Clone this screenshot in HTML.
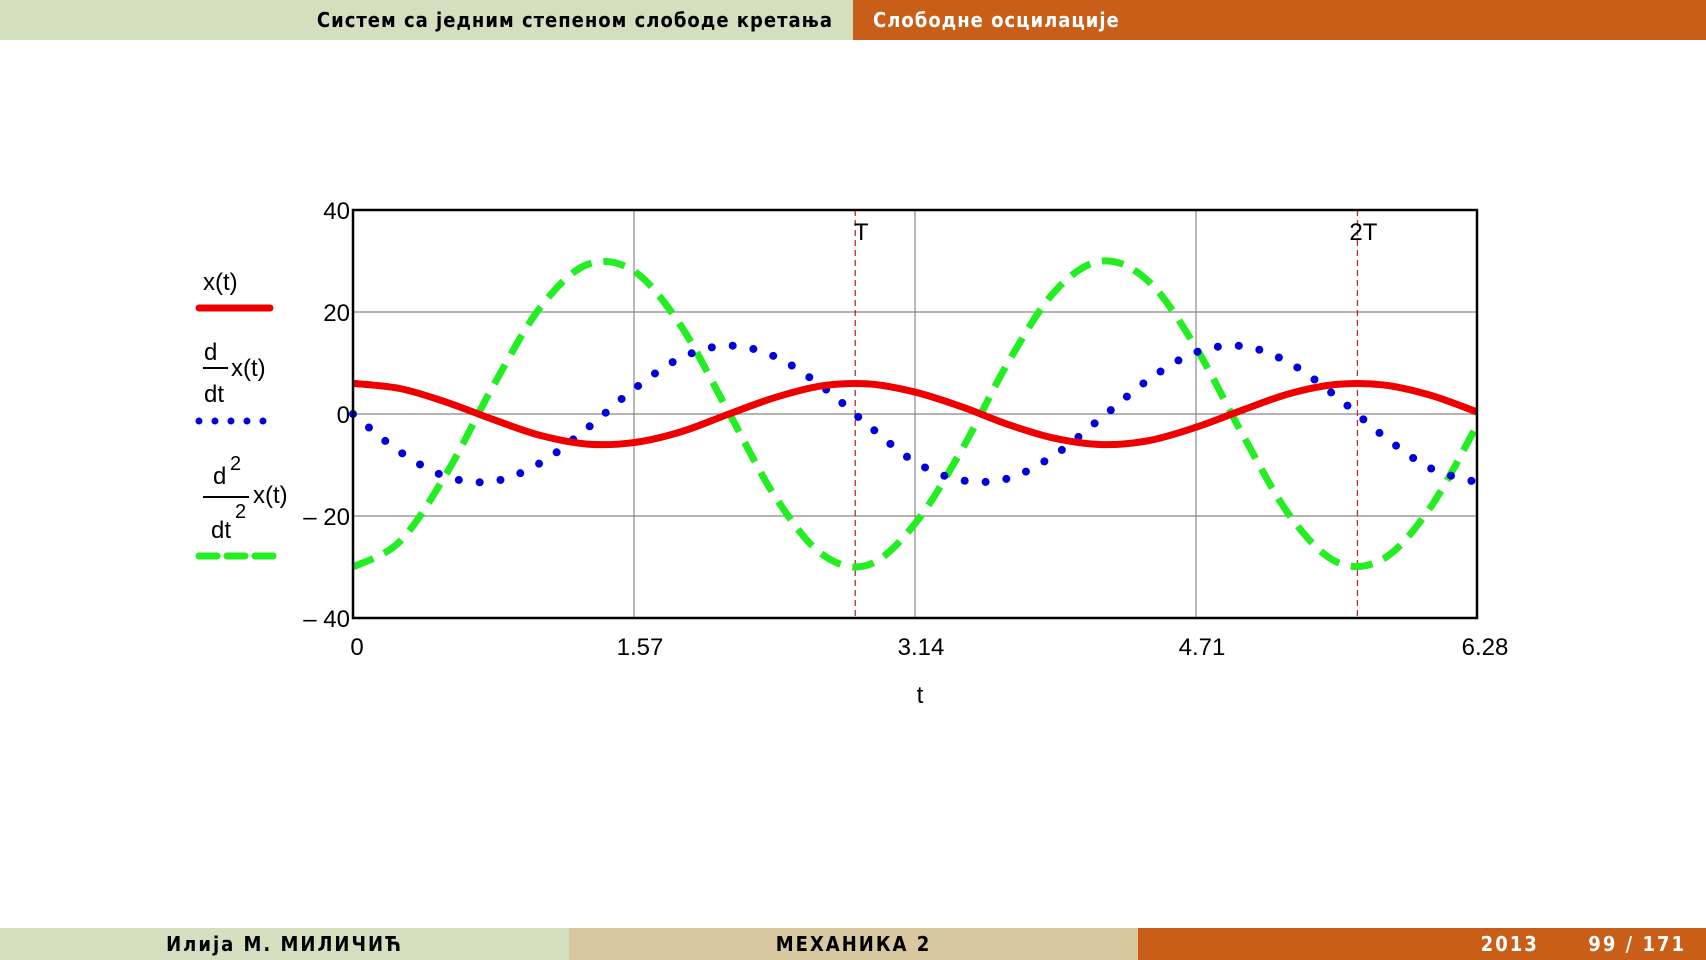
<!DOCTYPE html>
<html><head><meta charset="utf-8"><style>
body{margin:0;width:1706px;height:960px;background:#fff;overflow:hidden;position:relative;font-family:"DejaVu Sans Condensed","Liberation Sans Narrow","Liberation Sans",sans-serif}
.bar{position:absolute;font-size:20px;line-height:40px;font-weight:bold;letter-spacing:1px}
</style></head><body>
<div class="bar" style="left:0;top:0;width:853px;height:40px;background:#d3dfbf;color:#000;text-align:right;box-sizing:border-box;padding-right:20px">Систем са једним степеном слободе кретања</div>
<div class="bar" style="left:853px;top:0;width:853px;height:40px;background:#c85e17;color:#fff;padding-left:20px;box-sizing:border-box">Слободне осцилације</div>
<div class="bar" style="left:0;top:928px;width:569px;height:32px;line-height:32px;background:#d3dfbf;text-align:center;letter-spacing:2px">Илија М. МИЛИЧИЋ</div>
<div class="bar" style="left:569px;top:928px;width:569px;height:32px;line-height:32px;background:#d8c8a0;text-align:center;letter-spacing:2px">МЕХАНИКА 2</div>
<div class="bar" style="left:1138px;top:928px;width:568px;height:32px;line-height:32px;background:#c85e17;color:#fff;text-align:right;padding-right:20px;box-sizing:border-box;letter-spacing:2px">2013 &nbsp;&nbsp;&nbsp;&nbsp; 99 / 171</div>
<svg id="chart" width="1706" height="960" style="position:absolute;left:0;top:0" font-family="Liberation Sans, sans-serif" font-size="24"></svg>
<script>
const tMax = 6.28;
const tTicks = ["0","1.57","3.14","4.71","6.28"];
const yTicks = [40,20,0,-20,-40];
const periodMarks = [2.806, 5.612];
const periodLabels = ["T","2T"];
const xVals = [6,5,2.3,-1.1,-4.2,-5.9,-5.6,-3.5,-0.1,3.2,5.5,5.9,4.3,1.4,-2.1,-4.8,-6,-5.2,-2.6,0.8,4,5.8,5.7,3.7,0.4];
const vVals = [0,-7.4,-12.3,-13.2,-9.6,-2.8,4.9,11,13.4,11.3,5.5,-2.2,-9.4,-13,-12.6,-7.9,-0.6,6.8,12.1,13.3,10,3.4,-4.3,-10.6,-13.4];
const aVals = [-30,-25,-11.6,5.6,20.9,29.3,28,17.3,0.7,-16,-27.4,-29.6,-21.5,-7,10.3,24.2,30,25.9,13,-4.1,-19.9,-29,-28.4,-18.4,-2.2];

const L=353,R=1477,T=210,B=618;
const sx=t=>L+t/tMax*(R-L);
const sy=v=>T+(40-v)/80*(B-T);
const svg=document.getElementById('chart');
const NS='http://www.w3.org/2000/svg';
function mk(tag,attrs,parent){const e=document.createElementNS(NS,tag);for(const k in attrs)e.setAttribute(k,attrs[k]);(parent||svg).appendChild(e);return e;}

tTicks.forEach((lab,i)=>{const t=parseFloat(lab);
  if(i>0&&i<tTicks.length-1){const g=mk('line',{x1:sx(t),x2:sx(t),y1:T,y2:B,stroke:'#888','stroke-width':1.2});
  
  }
  const tx=mk('text',{x:sx(t)+(i==0?4:i==tTicks.length-1?8:6),y:655,'text-anchor':'middle'});tx.textContent=lab;
  
  
});
yTicks.forEach((v,i)=>{
  if(i>0&&i<yTicks.length-1){const g=mk('line',{x1:L,x2:R,y1:sy(v),y2:sy(v),stroke:'#888','stroke-width':1.2});
  
  }
  const tx=mk('text',{x:350,y:sy(v)+9,'text-anchor':'end'});tx.textContent=(v<0?'\u2013 ':'')+Math.abs(v);
  
  
});
periodMarks.forEach((t,i)=>{
  const l=mk('line',{x1:sx(t),x2:sx(t),y1:T,y2:B,stroke:'#b03030','stroke-width':1.3,'stroke-dasharray':'6 4'});
  
  
  const tx=mk('text',{x:sx(t)+6,y:240,'text-anchor':'middle'});tx.textContent=periodLabels[i];
  
  
});
function path(vals){const n=vals.length;const pts=vals.map((v,i)=>[sx(i*tMax/(n-1)),sy(v)]);
  let d='M'+pts[0][0]+','+pts[0][1];
  for(let i=0;i<n-1;i++){const p0=pts[Math.max(0,i-1)],p1=pts[i],p2=pts[i+1],p3=pts[Math.min(n-1,i+2)];
    d+=' C'+(p1[0]+(p2[0]-p0[0])/6)+','+(p1[1]+(p2[1]-p0[1])/6)+' '+(p2[0]-(p3[0]-p1[0])/6)+','+(p2[1]-(p3[1]-p1[1])/6)+' '+p2[0]+','+p2[1];}
  return d;}
const c=mk('defs',{});const cp=mk('clipPath',{id:'cp'},c);mk('rect',{x:L-4,y:T,width:R-L+8,height:B-T},cp);
const g=mk('g',{'clip-path':'url(#cp)'});
const pa=mk('path',{d:path(aVals),fill:'none',stroke:'#22ee22','stroke-width':7,'stroke-dasharray':'22 12'},g);


const pv=mk('path',{d:path(vVals),fill:'none',stroke:'#0000dd','stroke-width':8,'stroke-dasharray':'0 21','stroke-linecap':'round'},g);


const px=mk('path',{d:path(xVals),fill:'none',stroke:'#ee0000','stroke-width':7},g);


const fr=mk('rect',{x:L,y:T,width:R-L,height:B-T,fill:'none',stroke:'#000','stroke-width':2.5});


const xt=mk('text',{x:920,y:703,'text-anchor':'middle'});xt.textContent='t';


const lg=mk('g',{});


function txt(s,x,y,fs){const e=mk('text',{x:x,y:y,'font-size':fs||24},lg);e.textContent=s;return e;}
txt('x(t)',203,290);
mk('line',{x1:199,x2:270,y1:308,y2:308,stroke:'#ee0000','stroke-width':7,'stroke-linecap':'round'},lg);
txt('d',204,360);mk('line',{x1:203,x2:228,y1:368,y2:368,stroke:'#000','stroke-width':2},lg);txt('x(t)',231,376);txt('dt',204,402);
mk('line',{x1:199,x2:274,y1:421,y2:421,stroke:'#0000dd','stroke-width':7,'stroke-dasharray':'0 16','stroke-linecap':'round'},lg);
txt('d',213,484);txt('2',230,470,20);mk('line',{x1:203,x2:249,y1:497,y2:497,stroke:'#000','stroke-width':2},lg);txt('x(t)',253,503);txt('dt',211,538);txt('2',235,518,20);
mk('line',{x1:199,x2:274,y1:556,y2:556,stroke:'#22ee22','stroke-width':7,'stroke-dasharray':'18 10','stroke-linecap':'round'},lg);
</script>
</body></html>
